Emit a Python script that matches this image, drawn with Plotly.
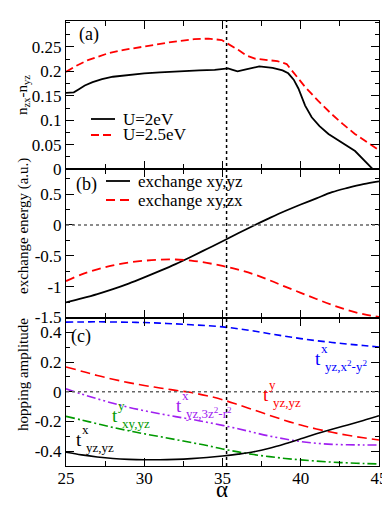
import plotly.graph_objects as go
from plotly.subplots import make_subplots

# panel (a): n_zx - n_yz
alpha_a = [25, 25.5, 25.8, 26.2, 26.7, 27.3, 28.0, 29.0, 30.0, 31.0, 32.0, 33.5, 34.5, 35.35, 35.65, 35.96, 36.5, 37.35, 38.2, 38.84, 39.2, 39.55, 39.85, 40.28, 40.7, 41.2, 41.77, 42.6, 43.47, 44.57]
n_u2 = [0.156, 0.157, 0.163, 0.171, 0.178, 0.184, 0.189, 0.193, 0.196, 0.198, 0.2, 0.202, 0.203, 0.206, 0.203, 0.2, 0.204, 0.21, 0.207, 0.202, 0.196, 0.183, 0.165, 0.13, 0.106, 0.088, 0.072, 0.055, 0.037, 0.001]
alpha_a2 = [25, 25.7, 26.4, 27.0, 27.7, 28.7, 29.8, 30.9, 31.95, 33.2, 34.1, 34.95, 35.5, 36.0, 36.5, 37.07, 37.9, 38.5, 39.1, 39.6, 40.28, 41.1, 41.96, 42.7, 43.46, 44.2, 45]
n_u25 = [0.199, 0.212, 0.223, 0.23, 0.237, 0.244, 0.25, 0.256, 0.261, 0.266, 0.267, 0.264, 0.254, 0.244, 0.233, 0.226, 0.223, 0.221, 0.215, 0.196, 0.168, 0.14, 0.113, 0.092, 0.072, 0.056, 0.039]

# panel (b): exchange energy
alpha_b = [25, 26, 27, 28, 29, 30, 31, 32, 33, 34, 35, 36, 37, 38, 39, 40, 41, 42, 43, 44, 45]
ex_xy_yz = [-1.255, -1.19, -1.12, -1.04, -0.95, -0.85, -0.745, -0.635, -0.515, -0.39, -0.265, -0.135, -0.01, 0.11, 0.225, 0.33, 0.43, 0.53, 0.6, 0.66, 0.705]
ex_xy_zx = [-0.91, -0.8, -0.72, -0.655, -0.61, -0.58, -0.562, -0.56, -0.578, -0.615, -0.665, -0.725, -0.8, -0.895, -1.0, -1.1, -1.2, -1.295, -1.38, -1.445, -1.49]

# panel (c): hopping amplitudes
alpha_c = [25, 26, 27, 28, 29, 30, 31, 32, 33, 34, 35, 36, 37, 38, 39, 40, 41, 42, 43, 44, 45]
t_x_yz_x2y2 = [0.47, 0.471, 0.472, 0.471, 0.469, 0.467, 0.463, 0.458, 0.452, 0.446, 0.438, 0.425, 0.41, 0.392, 0.375, 0.359, 0.345, 0.333, 0.322, 0.312, 0.302]
t_y_yz_yz = [0.168, 0.139, 0.11, 0.085, 0.062, 0.043, 0.026, 0.01, -0.005, -0.026, -0.053, -0.087, -0.122, -0.158, -0.193, -0.224, -0.25, -0.273, -0.293, -0.31, -0.325]
t_x_yz_3z2r2 = [0.02, -0.015, -0.047, -0.077, -0.104, -0.127, -0.148, -0.167, -0.185, -0.205, -0.226, -0.249, -0.274, -0.298, -0.318, -0.335, -0.347, -0.354, -0.357, -0.358, -0.358]
t_y_xy_yz = [-0.165, -0.19, -0.215, -0.24, -0.262, -0.283, -0.302, -0.322, -0.342, -0.362, -0.385, -0.405, -0.423, -0.437, -0.449, -0.459, -0.467, -0.474, -0.479, -0.483, -0.486]
t_x_yz_yz = [-0.407, -0.425, -0.439, -0.449, -0.455, -0.458, -0.458, -0.455, -0.45, -0.443, -0.433, -0.42, -0.404, -0.38, -0.35, -0.317, -0.283, -0.252, -0.223, -0.193, -0.161]

alpha_magic = 35.26

legend_a = ["U=2eV", "U=2.5eV"]
legend_b = ["exchange xy,yz", "exchange xy,zx"]

FONT = "Liberation Serif, Times New Roman, serif"
RED = "#ff0000"

def px(x):
    return (x - 58) / 313

def py(y):
    return (458 - y) / 445

fig = make_subplots(rows=3, cols=1, shared_xaxes=True, vertical_spacing=0)

dash_a = [("black", "solid"), (RED, "8px,4px")]
dash_b = [("black", "solid"), (RED, "9px,5px")]

for (xs, ys), (col, dash) in zip([(alpha_a, n_u2), (alpha_a2, n_u25)], dash_a):
    fig.add_trace(go.Scatter(x=xs, y=ys, mode="lines", showlegend=False,
                             line=dict(color=col, width=1.8, dash=dash)), row=1, col=1)

for ys, (col, dash) in zip([ex_xy_yz, ex_xy_zx], dash_b):
    fig.add_trace(go.Scatter(x=alpha_b, y=ys, mode="lines", showlegend=False, line_shape="spline",
                             line=dict(color=col, width=1.8, dash=dash)), row=2, col=1)

c_series = [
    (t_x_yz_x2y2, "#0000ff", "7px,4px"),
    (t_y_yz_yz, RED, "10px,5px"),
    (t_x_yz_3z2r2, "#a020f0", "9px,3px,2px,3px,2px,3px"),
    (t_y_xy_yz, "#009900", "9px,3px,2px,3px"),
    (t_x_yz_yz, "black", "solid"),
]
for vals, col, dash in c_series:
    fig.add_trace(go.Scatter(x=alpha_c, y=vals, mode="lines", showlegend=False, line_shape="spline",
                             line=dict(color=col, width=1.6, dash=dash)), row=3, col=1)

axis_common = dict(showline=True, linecolor="black", linewidth=1, mirror="ticks",
                   ticks="inside", tickcolor="black", tickwidth=1.2, ticklen=8,
                   showgrid=False, zeroline=False, automargin=False,
                   tickfont=dict(family=FONT, size=17, color="black"))

for i in (1, 2, 3):
    fig.update_xaxes(range=[25, 45], dtick=5, tick0=25, ticklabelstandoff=-3,
                     minor=dict(dtick=2.5, ticks="inside", ticklen=5, tickcolor="black", tickwidth=1.2),
                     showticklabels=(i == 3), row=i, col=1, **axis_common)

def labels(vals):
    return ["%g" % v for v in vals]

ya = [0, 0.05, 0.1, 0.15, 0.2, 0.25]
yb = [-1.5, -1, -0.5, 0, 0.5]
yc = [-0.4, -0.2, 0, 0.2, 0.4]
fig.update_yaxes(range=[-0.0004, 0.303], tickmode="array", tickvals=ya, ticktext=labels(ya),
                 minor=dict(dtick=0.025, tick0=0, ticks="inside", ticklen=4, tickcolor="black"),
                 row=1, col=1, **axis_common)
fig.update_yaxes(range=[-1.502, 0.9], tickmode="array", tickvals=yb, ticktext=labels(yb),
                 minor=dict(dtick=0.25, tick0=0, ticks="inside", ticklen=4, tickcolor="black"),
                 row=2, col=1, **axis_common)
fig.update_yaxes(range=[-0.5, 0.5], tickmode="array", tickvals=yc, ticktext=labels(yc),
                 minor=dict(dtick=0.1, tick0=0, ticks="inside", ticklen=4, tickcolor="black"),
                 row=3, col=1, **axis_common)

fig.update_layout(yaxis=dict(domain=[2/3, 1]), yaxis2=dict(domain=[1/3, 2/3]), yaxis3=dict(domain=[0, 1/3]))

# reference lines
fig.add_shape(type="line", xref="x3", yref="paper", x0=alpha_magic, x1=alpha_magic, y0=0, y1=1,
              line=dict(color="black", width=1.5, dash="dot"))
for yr in ("y2", "y3"):
    fig.add_shape(type="line", xref="x", yref=yr, x0=25, x1=45, y0=0, y1=0,
                  line=dict(color="#666666", width=1.5, dash="dot"))

ann = []
def text(x, y, s, size, color="black", angle=0, xanchor="left"):
    ann.append(dict(xref="paper", yref="paper", x=px(x), y=py(y), text=s, showarrow=False,
                    xanchor=xanchor, yanchor="middle", textangle=angle,
                    font=dict(family=FONT, size=size, color=color)))

# hand-made legends
def legend(x0, x1, ys, names, styles):
    for y, name, (col, dash) in zip(ys, names, styles):
        fig.add_shape(type="line", xref="paper", yref="paper", x0=px(x0), x1=px(x1), y0=py(y), y1=py(y),
                      line=dict(color=col, width=1.8, dash=dash))
        text(x1 + 6, y, name, 17)

legend(83, 107, [111, 127], legend_a, dash_a)
legend(98, 122, [173, 192], legend_b, dash_b)

text(69, 26, "(a)", 18)
text(66, 176, "(b)", 18)
text(61, 328, "(c)", 18)

text(15, 87, "n<sub>zx</sub>-n<sub>yz</sub>", 15, angle=-90, xanchor="center")
text(15, 218, "exchange energy (a.u.)", 15, angle=-90, xanchor="center")
text(15, 367, "hopping amplitude", 15, angle=-90, xanchor="center")
text(214, 481, "α", 23, xanchor="center")

def hop_label(x, y, sup, sub, color):
    text(x, y, "t", 19, color)
    text(x + 6, y - 10, sup, 13, color)
    text(x + 10, y + 8, sub, 13, color)

hop_label(305, 350, "x", "yz,x<sup>2</sup>-y<sup>2</sup>", "#0000ff")
hop_label(253, 386, "y", "yz,yz", RED)
hop_label(166, 397, "x", "yz,3z<sup>2</sup>-r<sup>2</sup>", "#a020f0")
hop_label(102, 407, "y", "xy,yz", "#009900")
hop_label(66, 431, "x", "yz,yz", "black")

fig.update_layout(
    width=390, height=505,
    margin=dict(l=58, r=19, t=13, b=47),
    paper_bgcolor="white", plot_bgcolor="white",
    annotations=ann,
)

fig.write_html("out.html")
